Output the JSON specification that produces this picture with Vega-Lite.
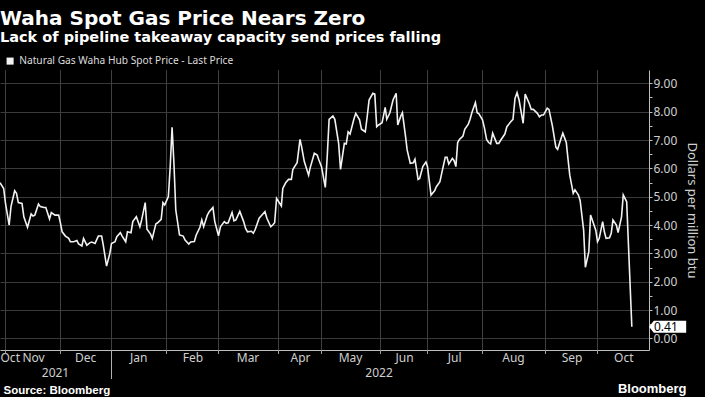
{
  "$schema": "https://vega.github.io/schema/vega-lite/v6.json",
  "width": 649,
  "height": 280,
  "autosize": {"type": "none"},
  "padding": {"left": 0, "top": 70, "right": 56, "bottom": 47},
  "background": "#000000",
  "title": {
    "text": "Waha Spot Gas Price Nears Zero",
    "subtitle": "Lack of pipeline takeaway capacity send prices falling",
    "anchor": "start",
    "frame": "group",
    "font": "DejaVu Sans",
    "fontSize": 20,
    "fontWeight": "bold",
    "color": "#ffffff",
    "subtitleFont": "DejaVu Sans",
    "subtitleFontSize": 14.5,
    "subtitleFontWeight": "bold",
    "subtitleColor": "#ffffff",
    "subtitlePadding": 2,
    "offset": 12
  },
  "data": {
    "values": [
      {"date": "2021-10-29", "price": 5.49},
      {"date": "2021-10-31", "price": 5.29},
      {"date": "2021-11-01", "price": 4.76},
      {"date": "2021-11-03", "price": 4.0},
      {"date": "2021-11-04", "price": 4.65},
      {"date": "2021-11-06", "price": 5.21},
      {"date": "2021-11-07", "price": 5.12},
      {"date": "2021-11-08", "price": 4.79},
      {"date": "2021-11-10", "price": 4.76},
      {"date": "2021-11-11", "price": 4.29},
      {"date": "2021-11-13", "price": 3.92},
      {"date": "2021-11-15", "price": 4.39},
      {"date": "2021-11-16", "price": 4.32},
      {"date": "2021-11-17", "price": 4.35},
      {"date": "2021-11-19", "price": 4.74},
      {"date": "2021-11-20", "price": 4.65},
      {"date": "2021-11-22", "price": 4.62},
      {"date": "2021-11-23", "price": 4.62},
      {"date": "2021-11-25", "price": 4.21},
      {"date": "2021-11-26", "price": 4.44},
      {"date": "2021-11-28", "price": 4.35},
      {"date": "2021-11-30", "price": 4.35},
      {"date": "2021-12-01", "price": 4.06},
      {"date": "2021-12-02", "price": 3.76},
      {"date": "2021-12-04", "price": 3.61},
      {"date": "2021-12-06", "price": 3.53},
      {"date": "2021-12-07", "price": 3.41},
      {"date": "2021-12-09", "price": 3.41},
      {"date": "2021-12-11", "price": 3.45},
      {"date": "2021-12-12", "price": 3.33},
      {"date": "2021-12-14", "price": 3.26},
      {"date": "2021-12-15", "price": 3.53},
      {"date": "2021-12-17", "price": 3.29},
      {"date": "2021-12-19", "price": 3.38},
      {"date": "2021-12-20", "price": 3.40},
      {"date": "2021-12-22", "price": 3.35},
      {"date": "2021-12-24", "price": 3.61},
      {"date": "2021-12-26", "price": 3.61},
      {"date": "2021-12-27", "price": 3.29},
      {"date": "2021-12-29", "price": 2.55},
      {"date": "2021-12-31", "price": 3.0},
      {"date": "2022-01-01", "price": 3.35},
      {"date": "2022-01-03", "price": 3.41},
      {"date": "2022-01-04", "price": 3.59},
      {"date": "2022-01-06", "price": 3.73},
      {"date": "2022-01-07", "price": 3.61},
      {"date": "2022-01-09", "price": 3.41},
      {"date": "2022-01-10", "price": 3.76},
      {"date": "2022-01-12", "price": 3.73},
      {"date": "2022-01-13", "price": 4.12},
      {"date": "2022-01-15", "price": 4.29},
      {"date": "2022-01-17", "price": 3.94},
      {"date": "2022-01-18", "price": 4.18},
      {"date": "2022-01-20", "price": 4.79},
      {"date": "2022-01-21", "price": 3.85},
      {"date": "2022-01-23", "price": 3.68},
      {"date": "2022-01-24", "price": 3.53},
      {"date": "2022-01-26", "price": 4.04},
      {"date": "2022-01-27", "price": 4.08},
      {"date": "2022-01-29", "price": 4.2},
      {"date": "2022-01-30", "price": 4.79},
      {"date": "2022-01-31", "price": 4.71},
      {"date": "2022-02-02", "price": 5.0},
      {"date": "2022-02-03", "price": 6.06},
      {"date": "2022-02-04", "price": 7.45},
      {"date": "2022-02-05", "price": 6.18},
      {"date": "2022-02-06", "price": 4.53},
      {"date": "2022-02-08", "price": 3.65},
      {"date": "2022-02-10", "price": 3.61},
      {"date": "2022-02-11", "price": 3.47},
      {"date": "2022-02-13", "price": 3.33},
      {"date": "2022-02-14", "price": 3.40},
      {"date": "2022-02-16", "price": 3.42},
      {"date": "2022-02-17", "price": 3.65},
      {"date": "2022-02-19", "price": 3.92},
      {"date": "2022-02-20", "price": 4.18},
      {"date": "2022-02-21", "price": 3.94},
      {"date": "2022-02-23", "price": 4.35},
      {"date": "2022-02-24", "price": 4.47},
      {"date": "2022-02-26", "price": 4.62},
      {"date": "2022-02-27", "price": 4.12},
      {"date": "2022-03-01", "price": 3.62},
      {"date": "2022-03-02", "price": 3.94},
      {"date": "2022-03-04", "price": 4.12},
      {"date": "2022-03-05", "price": 4.06},
      {"date": "2022-03-06", "price": 4.08},
      {"date": "2022-03-08", "price": 4.44},
      {"date": "2022-03-09", "price": 4.15},
      {"date": "2022-03-10", "price": 4.18},
      {"date": "2022-03-12", "price": 4.48},
      {"date": "2022-03-14", "price": 4.12},
      {"date": "2022-03-15", "price": 3.88},
      {"date": "2022-03-16", "price": 3.76},
      {"date": "2022-03-18", "price": 3.78},
      {"date": "2022-03-19", "price": 3.71},
      {"date": "2022-03-20", "price": 3.85},
      {"date": "2022-03-22", "price": 4.24},
      {"date": "2022-03-23", "price": 4.32},
      {"date": "2022-03-25", "price": 4.47},
      {"date": "2022-03-26", "price": 4.24},
      {"date": "2022-03-28", "price": 3.94},
      {"date": "2022-03-29", "price": 4.0},
      {"date": "2022-03-30", "price": 4.08},
      {"date": "2022-03-31", "price": 4.94},
      {"date": "2022-04-03", "price": 4.67},
      {"date": "2022-04-04", "price": 5.29},
      {"date": "2022-04-06", "price": 5.49},
      {"date": "2022-04-08", "price": 5.61},
      {"date": "2022-04-10", "price": 5.61},
      {"date": "2022-04-11", "price": 5.96},
      {"date": "2022-04-13", "price": 6.12},
      {"date": "2022-04-14", "price": 6.2},
      {"date": "2022-04-16", "price": 7.02},
      {"date": "2022-04-17", "price": 6.79},
      {"date": "2022-04-19", "price": 6.24},
      {"date": "2022-04-22", "price": 5.76},
      {"date": "2022-04-23", "price": 6.0},
      {"date": "2022-04-26", "price": 6.53},
      {"date": "2022-04-28", "price": 6.47},
      {"date": "2022-04-29", "price": 6.32},
      {"date": "2022-05-01", "price": 6.06},
      {"date": "2022-05-03", "price": 5.33},
      {"date": "2022-05-04", "price": 6.41},
      {"date": "2022-05-05", "price": 7.73},
      {"date": "2022-05-07", "price": 7.85},
      {"date": "2022-05-08", "price": 7.73},
      {"date": "2022-05-10", "price": 6.88},
      {"date": "2022-05-11", "price": 5.96},
      {"date": "2022-05-13", "price": 6.88},
      {"date": "2022-05-14", "price": 6.86},
      {"date": "2022-05-15", "price": 7.29},
      {"date": "2022-05-16", "price": 7.21},
      {"date": "2022-05-18", "price": 7.73},
      {"date": "2022-05-19", "price": 7.94},
      {"date": "2022-05-21", "price": 7.71},
      {"date": "2022-05-22", "price": 7.38},
      {"date": "2022-05-24", "price": 7.29},
      {"date": "2022-05-25", "price": 7.82},
      {"date": "2022-05-26", "price": 8.41},
      {"date": "2022-05-28", "price": 8.65},
      {"date": "2022-05-29", "price": 8.62},
      {"date": "2022-05-30", "price": 7.47},
      {"date": "2022-05-31", "price": 7.53},
      {"date": "2022-06-02", "price": 7.61},
      {"date": "2022-06-04", "price": 8.15},
      {"date": "2022-06-05", "price": 7.73},
      {"date": "2022-06-07", "price": 7.96},
      {"date": "2022-06-09", "price": 8.41},
      {"date": "2022-06-11", "price": 8.65},
      {"date": "2022-06-12", "price": 7.53},
      {"date": "2022-06-14", "price": 7.85},
      {"date": "2022-06-15", "price": 7.96},
      {"date": "2022-06-17", "price": 7.12},
      {"date": "2022-06-18", "price": 6.65},
      {"date": "2022-06-20", "price": 6.18},
      {"date": "2022-06-22", "price": 6.2},
      {"date": "2022-06-23", "price": 6.32},
      {"date": "2022-06-25", "price": 5.61},
      {"date": "2022-06-26", "price": 5.64},
      {"date": "2022-06-28", "price": 6.06},
      {"date": "2022-06-30", "price": 6.22},
      {"date": "2022-07-01", "price": 6.06},
      {"date": "2022-07-03", "price": 5.06},
      {"date": "2022-07-05", "price": 5.21},
      {"date": "2022-07-06", "price": 5.35},
      {"date": "2022-07-08", "price": 5.53},
      {"date": "2022-07-09", "price": 5.82},
      {"date": "2022-07-11", "price": 6.39},
      {"date": "2022-07-12", "price": 6.39},
      {"date": "2022-07-13", "price": 6.15},
      {"date": "2022-07-15", "price": 6.35},
      {"date": "2022-07-16", "price": 6.27},
      {"date": "2022-07-17", "price": 6.06},
      {"date": "2022-07-18", "price": 6.91},
      {"date": "2022-07-19", "price": 7.02},
      {"date": "2022-07-21", "price": 7.14},
      {"date": "2022-07-22", "price": 7.38},
      {"date": "2022-07-24", "price": 7.56},
      {"date": "2022-07-25", "price": 7.73},
      {"date": "2022-07-26", "price": 7.96},
      {"date": "2022-07-28", "price": 8.32},
      {"date": "2022-07-29", "price": 7.96},
      {"date": "2022-07-30", "price": 7.92},
      {"date": "2022-08-01", "price": 7.71},
      {"date": "2022-08-02", "price": 7.41},
      {"date": "2022-08-03", "price": 7.02},
      {"date": "2022-08-04", "price": 6.91},
      {"date": "2022-08-05", "price": 6.86},
      {"date": "2022-08-06", "price": 7.24},
      {"date": "2022-08-08", "price": 6.88},
      {"date": "2022-08-09", "price": 6.88},
      {"date": "2022-08-10", "price": 7.0},
      {"date": "2022-08-12", "price": 7.21},
      {"date": "2022-08-13", "price": 7.47},
      {"date": "2022-08-15", "price": 7.65},
      {"date": "2022-08-16", "price": 7.73},
      {"date": "2022-08-17", "price": 8.47},
      {"date": "2022-08-18", "price": 8.67},
      {"date": "2022-08-19", "price": 8.41},
      {"date": "2022-08-21", "price": 7.59},
      {"date": "2022-08-22", "price": 8.62},
      {"date": "2022-08-24", "price": 8.29},
      {"date": "2022-08-25", "price": 8.08},
      {"date": "2022-08-26", "price": 8.08},
      {"date": "2022-08-28", "price": 7.94},
      {"date": "2022-08-29", "price": 7.82},
      {"date": "2022-08-30", "price": 7.88},
      {"date": "2022-08-31", "price": 7.88},
      {"date": "2022-09-02", "price": 8.12},
      {"date": "2022-09-03", "price": 8.08},
      {"date": "2022-09-05", "price": 7.49},
      {"date": "2022-09-07", "price": 6.74},
      {"date": "2022-09-08", "price": 6.67},
      {"date": "2022-09-10", "price": 7.06},
      {"date": "2022-09-11", "price": 7.24},
      {"date": "2022-09-13", "price": 6.91},
      {"date": "2022-09-14", "price": 6.32},
      {"date": "2022-09-15", "price": 5.76},
      {"date": "2022-09-17", "price": 5.12},
      {"date": "2022-09-18", "price": 5.24},
      {"date": "2022-09-20", "price": 5.06},
      {"date": "2022-09-21", "price": 4.86},
      {"date": "2022-09-23", "price": 3.82},
      {"date": "2022-09-24", "price": 2.51},
      {"date": "2022-09-26", "price": 3.06},
      {"date": "2022-09-27", "price": 4.35},
      {"date": "2022-09-28", "price": 4.18},
      {"date": "2022-09-30", "price": 3.82},
      {"date": "2022-10-01", "price": 3.41},
      {"date": "2022-10-02", "price": 3.53},
      {"date": "2022-10-04", "price": 4.12},
      {"date": "2022-10-05", "price": 3.76},
      {"date": "2022-10-06", "price": 3.53},
      {"date": "2022-10-08", "price": 3.55},
      {"date": "2022-10-09", "price": 3.71},
      {"date": "2022-10-10", "price": 4.18},
      {"date": "2022-10-12", "price": 4.0},
      {"date": "2022-10-13", "price": 3.73},
      {"date": "2022-10-15", "price": 4.29},
      {"date": "2022-10-16", "price": 5.06},
      {"date": "2022-10-18", "price": 4.82},
      {"date": "2022-10-21", "price": 0.41}
    ]
  },
  "layer": [
    {
      "transform": [{"filter": "!(utcyear(datum.date) == 2021 && utcmonth(datum.date) == 9)"}],
      "mark": {"type": "tick", "orient": "vertical", "thickness": 1, "size": 280, "color": "#404040", "opacity": 1},
      "encoding": {
        "x": {
          "field": "date",
          "timeUnit": "utcyearmonth",
          "type": "temporal",
          "bandPosition": 0,
          "scale": {
            "type": "utc",
            "nice": false,
            "domain": {"expr": "[utc(2021,9,29),utc(2021,10,1),utc(2021,11,1),utc(2022,0,1),utc(2022,1,1),utc(2022,2,1),utc(2022,3,1),utc(2022,4,1),utc(2022,5,1),utc(2022,6,1),utc(2022,7,1),utc(2022,8,1),utc(2022,9,1),utc(2022,9,31)]"},
            "range": [0, 5.5, 60.5, 111.5, 166.5, 218.5, 278.5, 321.5, 380.5, 427.5, 482.5, 545.5, 597.5, 649]
          },
          "axis": null
        },
        "y": {"datum": 4.53, "type": "quantitative", "scale": {"domain": [-0.41, 9.47], "nice": false, "zero": false}, "axis": null}
      }
    },
    {
      "transform": [{"filter": "!(utcyear(datum.date) == 2021 && utcmonth(datum.date) == 9)"}],
      "mark": {"type": "tick", "orient": "vertical", "thickness": 1, "size": 4, "color": "#a0a0a0", "opacity": 1},
      "encoding": {
        "x": {
          "field": "date",
          "timeUnit": "utcyearmonth",
          "type": "temporal",
          "bandPosition": 0,
          "scale": {
            "type": "utc",
            "nice": false,
            "domain": {"expr": "[utc(2021,9,29),utc(2021,10,1),utc(2021,11,1),utc(2022,0,1),utc(2022,1,1),utc(2022,2,1),utc(2022,3,1),utc(2022,4,1),utc(2022,5,1),utc(2022,6,1),utc(2022,7,1),utc(2022,8,1),utc(2022,9,1),utc(2022,9,31)]"},
            "range": [0, 5.5, 60.5, 111.5, 166.5, 218.5, 278.5, 321.5, 380.5, 427.5, 482.5, 545.5, 597.5, 649]
          },
          "axis": null
        },
        "y": {"datum": -0.48, "type": "quantitative", "scale": {"domain": [-0.41, 9.47], "nice": false, "zero": false}, "axis": null}
      }
    },
    {
      "transform": [{"filter": "utcyear(datum.date) == 2022 && utcmonth(datum.date) == 0"}],
      "mark": {"type": "tick", "orient": "vertical", "thickness": 1, "size": 29, "color": "#b0b0b0", "opacity": 1},
      "encoding": {
        "x": {
          "field": "date",
          "timeUnit": "utcyearmonth",
          "type": "temporal",
          "bandPosition": 0,
          "scale": {
            "type": "utc",
            "nice": false,
            "domain": {"expr": "[utc(2021,9,29),utc(2021,10,1),utc(2021,11,1),utc(2022,0,1),utc(2022,1,1),utc(2022,2,1),utc(2022,3,1),utc(2022,4,1),utc(2022,5,1),utc(2022,6,1),utc(2022,7,1),utc(2022,8,1),utc(2022,9,1),utc(2022,9,31)]"},
            "range": [0, 5.5, 60.5, 111.5, 166.5, 218.5, 278.5, 321.5, 380.5, 427.5, 482.5, 545.5, 597.5, 649]
          },
          "axis": null
        },
        "y": {"datum": -0.92, "type": "quantitative", "scale": {"domain": [-0.41, 9.47], "nice": false, "zero": false}, "axis": null}
      }
    },
    {
      "mark": {"type": "line", "strokeWidth": 1.6, "interpolate": "linear"},
      "encoding": {
        "x": {
          "field": "date",
          "type": "temporal",
          "scale": {
            "type": "utc",
            "nice": false,
            "domain": {"expr": "[utc(2021,9,29),utc(2021,10,1),utc(2021,11,1),utc(2022,0,1),utc(2022,1,1),utc(2022,2,1),utc(2022,3,1),utc(2022,4,1),utc(2022,5,1),utc(2022,6,1),utc(2022,7,1),utc(2022,8,1),utc(2022,9,1),utc(2022,9,31)]"},
            "range": [0, 5.5, 60.5, 111.5, 166.5, 218.5, 278.5, 321.5, 380.5, 427.5, 482.5, 545.5, 597.5, 649]
          },
          "axis": {
            "orient": "bottom",
            "labels": false,
            "ticks": false,
            "grid": false,
            "domain": true,
            "domainColor": "#bdbdbd",
            "title": null
          }
        },
        "y": {
          "field": "price",
          "type": "quantitative",
          "scale": {"domain": [-0.41, 9.47], "nice": false, "zero": false},
          "axis": {
            "orient": "right",
            "values": [0, 0.5, 1, 1.5, 2, 2.5, 3, 3.5, 4, 4.5, 5, 5.5, 6, 6.5, 7, 7.5, 8, 8.5, 9],
            "labelExpr": "datum.value % 1 === 0 ? format(datum.value, '.2f') : ''",
            "labelOverlap": false,
            "tickSize": 3,
            "tickColor": "#bdbdbd",
            "labelPadding": 1,
            "labelFont": "Noto Sans",
            "labelFontSize": 12,
            "labelColor": "#cfcfcf",
            "domain": true,
            "domainColor": "#bdbdbd",
            "grid": true,
            "gridColor": "#3a3a3a",
            "gridOpacity": {"condition": {"test": "datum.value % 1 === 0", "value": 1}, "value": 0},
            "title": "Dollars per million btu",
            "titleFont": "Noto Sans",
            "titleFontSize": 13,
            "titleFontWeight": "normal",
            "titleColor": "#cfcfcf",
            "titleAngle": 90,
            "titlePadding": 8
          }
        },
        "color": {
          "datum": "Natural Gas Waha Hub Spot Price - Last Price",
          "type": "nominal",
          "scale": {"range": ["#f2f2f2"]},
          "legend": {
            "orient": "none",
            "legendX": 5,
            "legendY": -14,
            "padding": 0,
            "title": null,
            "symbolType": "square",
            "symbolSize": 50,
            "labelFont": "Noto Sans",
            "labelFontSize": 10.2,
            "labelColor": "#dddddd",
            "labelLimit": 0,
            "labelOffset": 4,
            "encode": {
              "symbols": {"update": {"fill": {"value": "#f2f2f2"}, "strokeWidth": {"value": 0}}}
            }
          }
        }
      }
    },
    {
      "transform": [
        {"window": [{"op": "row_number", "as": "rn"}], "sort": [{"field": "date", "order": "descending"}]},
        {"filter": "datum.rn == 1"}
      ],
      "mark": {
        "type": "point",
        "shape": "M0,0L0.8,-1L6.2,-1L6.2,1L0.8,1Z",
        "size": 144,
        "filled": true,
        "color": "#ffffff",
        "opacity": 1,
        "strokeWidth": 0
      },
      "encoding": {
        "x": {
          "datum": {"year": 2022, "month": 10, "date": 31, "utc": true},
          "type": "temporal",
          "scale": {
            "type": "utc",
            "nice": false,
            "domain": {"expr": "[utc(2021,9,29),utc(2021,10,1),utc(2021,11,1),utc(2022,0,1),utc(2022,1,1),utc(2022,2,1),utc(2022,3,1),utc(2022,4,1),utc(2022,5,1),utc(2022,6,1),utc(2022,7,1),utc(2022,8,1),utc(2022,9,1),utc(2022,9,31)]"},
            "range": [0, 5.5, 60.5, 111.5, 166.5, 218.5, 278.5, 321.5, 380.5, 427.5, 482.5, 545.5, 597.5, 649]
          },
          "axis": {
            "orient": "bottom",
            "values": [
              {"year": 2021, "month": 10, "date": 29, "utc": true},
              {"year": 2021, "month": 11, "date": 16, "utc": true},
              {"year": 2021, "month": 12, "date": 16, "utc": true},
              {"year": 2022, "month": 1, "date": 16, "utc": true},
              {"year": 2022, "month": 2, "date": 15, "utc": true},
              {"year": 2022, "month": 3, "date": 16, "utc": true},
              {"year": 2022, "month": 4, "date": 16, "utc": true},
              {"year": 2022, "month": 5, "date": 16, "utc": true},
              {"year": 2022, "month": 6, "date": 16, "utc": true},
              {"year": 2022, "month": 7, "date": 16, "utc": true},
              {"year": 2022, "month": 8, "date": 16, "utc": true},
              {"year": 2022, "month": 9, "date": 16, "utc": true},
              {"year": 2022, "month": 10, "date": 16, "utc": true}
            ],
            "labelExpr": "utcFormat(datum.value, '%b')",
            "labelFlush": true,
            "labelOverlap": false,
            "labelBound": false,
            "ticks": false,
            "domain": false,
            "grid": false,
            "labelPadding": 2,
            "labelFont": "Noto Sans",
            "labelFontSize": 12,
            "labelColor": "#cfcfcf",
            "title": "Bloomberg",
            "titleX": 686,
            "titleY": 38,
            "titleAlign": "right",
            "titleBaseline": "middle",
            "titleFont": "Liberation Sans",
            "titleFontWeight": "bold",
            "titleFontSize": 13,
            "titleColor": "#ffffff"
          }
        },
        "y": {"field": "price", "type": "quantitative", "scale": {"domain": [-0.41, 9.47], "nice": false, "zero": false}, "axis": null}
      }
    },
    {
      "transform": [
        {"window": [{"op": "row_number", "as": "rn"}], "sort": [{"field": "date", "order": "descending"}]},
        {"filter": "datum.rn == 1"}
      ],
      "mark": {
        "type": "text",
        "align": "left",
        "baseline": "middle",
        "dx": 5,
        "font": "Noto Sans",
        "fontSize": 12,
        "color": "#000000"
      },
      "encoding": {
        "x": {
          "datum": {"year": 2022, "month": 10, "date": 31, "utc": true},
          "type": "temporal",
          "scale": {
            "type": "utc",
            "nice": false,
            "domain": {"expr": "[utc(2021,9,29),utc(2021,10,1),utc(2021,11,1),utc(2022,0,1),utc(2022,1,1),utc(2022,2,1),utc(2022,3,1),utc(2022,4,1),utc(2022,5,1),utc(2022,6,1),utc(2022,7,1),utc(2022,8,1),utc(2022,9,1),utc(2022,9,31)]"},
            "range": [0, 5.5, 60.5, 111.5, 166.5, 218.5, 278.5, 321.5, 380.5, 427.5, 482.5, 545.5, 597.5, 649]
          },
          "axis": {
            "orient": "bottom",
            "values": [
              {"year": 2021, "month": 11, "date": 28, "utc": true},
              {"year": 2022, "month": 5, "date": 31, "utc": true}
            ],
            "labelExpr": "utcFormat(datum.value, '%Y')",
            "labelOverlap": false,
            "labelBound": false,
            "domain": false,
            "grid": false,
            "ticks": false,
            "labelPadding": 17,
            "labelFont": "Noto Sans",
            "labelFontSize": 12,
            "labelColor": "#cfcfcf",
            "title": "Source: Bloomberg",
            "titleX": 3,
            "titleY": 40,
            "titleAlign": "left",
            "titleBaseline": "middle",
            "titleFont": "Liberation Sans",
            "titleFontWeight": "bold",
            "titleFontSize": 11.5,
            "titleColor": "#ffffff"
          }
        },
        "y": {"field": "price", "type": "quantitative", "scale": {"domain": [-0.41, 9.47], "nice": false, "zero": false}, "axis": null},
        "text": {"field": "price", "type": "quantitative", "format": ".2f"}
      }
    }
  ],
  "resolve": {"axis": {"x": "independent", "y": "independent"}},
  "config": {
    "view": {"stroke": null},
    "font": "Noto Sans"
  }
}
